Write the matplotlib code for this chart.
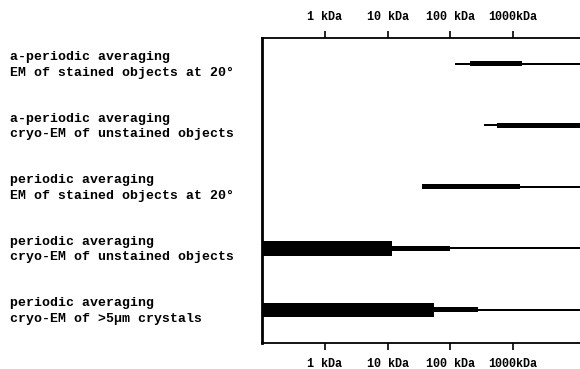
import matplotlib
matplotlib.use("Agg")
import matplotlib.pyplot as plt
import matplotlib.transforms as mtransforms
from matplotlib.ticker import NullLocator, FixedLocator

plt.rcParams['font.family'] = ['Liberation Mono', 'DejaVu Sans Mono']
plt.rcParams['font.weight'] = 'bold'

# --- data ---
row_labels = [
    "a-periodic averaging\nEM of stained objects at 20°",
    "a-periodic averaging\ncryo-EM of unstained objects",
    "periodic averaging\nEM of stained objects at 20°",
    "periodic averaging\ncryo-EM of unstained objects",
    "periodic averaging\ncryo-EM of >5µm crystals",
]
# thin line (full range), in kDa
thin_lo = [120, 350, 36, 0.1, 0.1]
thin_hi = [1e5, 1e5, 1e5, 1e5, 1e5]
# medium bar
mid_lo = [210, 560, 36, 0.1, 0.1]
mid_hi = [1400, 1e5, 1300, 100, 280]
# heavy bar (rows 4 and 5 only)
heavy_rows = [3, 4]
heavy_lo = [0.1, 0.1]
heavy_hi = [12, 55]

tick_vals = [1, 10, 100, 1000]
tick_labels = ["1 kDa", "10 kDa", "100 kDa", "1000kDa"]

W, H = 580, 369
fig = plt.figure(figsize=(W / 100, H / 100), dpi=100)
ax = fig.add_axes([262 / W, 1 - 343 / H, 1 - 262 / W, (343 - 38) / H])
ax.set_xscale('log')
ax.set_xlim(0.1, 10 ** ((580 - 325) / 62.7))
ax.set_ylim(4.54, -0.42)

rows = list(range(len(row_labels)))
ax.barh(rows, [h - l for l, h in zip(thin_lo, thin_hi)], left=thin_lo,
        height=0.032, color='black', linewidth=0)
ax.barh(rows, [h - l for l, h in zip(mid_lo, mid_hi)], left=mid_lo,
        height=0.085, color='black', linewidth=0)
ax.barh(heavy_rows, [h - l for l, h in zip(heavy_lo, heavy_hi)], left=heavy_lo,
        height=0.235, color='black', linewidth=0)

# spines
ax.spines['right'].set_visible(False)
ax.spines['left'].set_linewidth(2.0)
ax.spines['top'].set_linewidth(1.3)
ax.spines['bottom'].set_linewidth(1.3)

ax.yaxis.set_major_locator(NullLocator())
ax.yaxis.set_minor_locator(NullLocator())
ax.xaxis.set_major_locator(FixedLocator(tick_vals))
ax.xaxis.set_minor_locator(NullLocator())
ax.set_xticklabels(tick_labels)
ax.tick_params(axis='x', which='major', direction='out', length=5, width=1.2,
               top=True, labeltop=True, bottom=True, labelbottom=True,
               labelsize=8.5, pad=5.5)
for lab in ax.get_xticklabels():
    lab.set_fontweight('bold')

trans = mtransforms.blended_transform_factory(fig.transFigure, ax.transData)
for i, lab in enumerate(row_labels):
    fig.text(10 / W, i + 0.02, lab, transform=trans, ha='left', va='center',
             fontsize=9.5, fontweight='bold', linespacing=1.4)

fig.savefig("out.png", dpi=100)
